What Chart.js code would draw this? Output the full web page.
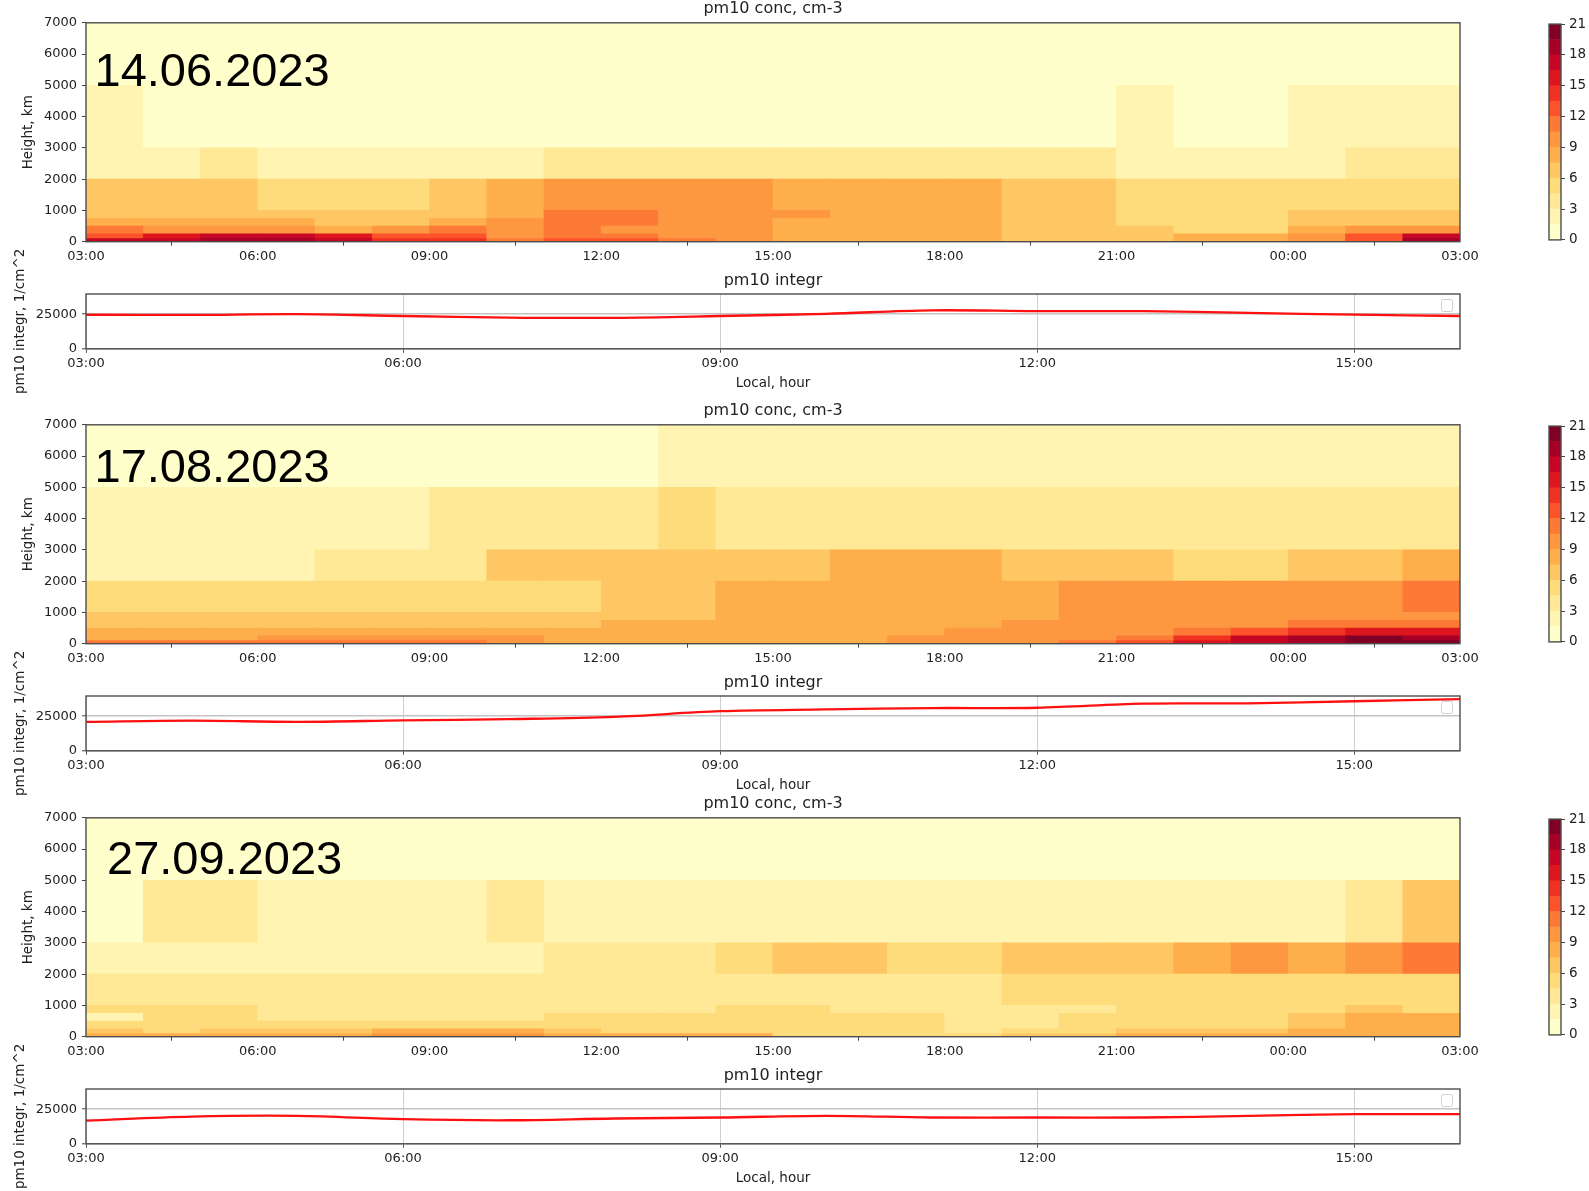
<!DOCTYPE html>
<html>
<head>
<meta charset="utf-8">
<script src="https://cdn.jsdelivr.net/npm/chart.js"></script>
<style>
html,body{margin:0;padding:0;background:#fff;}
#page{position:relative;width:1589px;height:1191px;overflow:hidden;background:#fff;}
</style>
</head>
<body>
<div id="page"></div>
<script>
'use strict';
// layer edges of the profile, m
const heightEdges=[0,100,250,500,750,1000,2000,3000,5000,7000];
const heightTicks=[0,1000,2000,3000,4000,5000,6000,7000];
const heatTickHours=[0,3,6,9,12,15,18,21,24];
const heatTickLabels=['03:00','06:00','09:00','12:00','15:00','18:00','21:00','00:00','03:00'];
const integrHours=[0,1,2,3,4,5,6,7,8,9,10,11,12,13];
const lineTickHours=[0,3,6,9,12];
const lineTickLabels=['03:00','06:00','09:00','12:00','15:00'];
const integrTicks=[0,25000];
const colorLevels=[0,1.5,3,4.5,6,7.5,9,10.5,12,13.5,15,16.5,18,19.5,21];
const dates=['14.06.2023','17.08.2023','27.09.2023'];

// pm10 conc, rows bottom->top (one per layer), 24 hourly columns from 03:00
const concJun=[
  [17,17,19,19,17,14,14,11,13,13,11,10,8,8,8,8,7,7,7,8,8,10,13,19],
  [13,16,17,17,16,13,13,10,11,11,10,10,8,8,8,8,7,7,7,8,8,10,13,17],
  [11,10,10,10,8,10,11,10,11,10,10,10,8,8,8,8,7,7,7,5,5,8,10,10],
  [8,8,8,8,7,7,8,10,11,11,10,10,8,8,8,8,7,7,5,5,5,7,7,7],
  [7,7,7,7,7,7,7,8,11,11,10,10,10,8,8,8,7,7,5,5,5,7,7,7],
  [7,7,7,5,5,5,7,8,10,10,10,10,8,8,8,8,7,7,5,5,5,5,5,5],
  [2,2,4,2,2,2,2,2,4,4,4,4,4,4,4,4,4,4,2,2,2,2,4,4],
  [2,1,1,1,1,1,1,1,1,1,1,1,1,1,1,1,1,1,2,1,1,2,2,2],
  [1,1,1,1,1,1,1,1,1,1,1,1,1,1,1,1,1,1,1,1,1,1,1,1]
];
const concAug=[
  [11,11,11,11,11,11,11,10,8,8,8,8,8,8,10,10,10,11,13,16,17,19,20,20],
  [8,8,8,10,10,10,10,10,8,8,8,8,8,8,10,10,10,10,11,14,17,19,20,19],
  [8,8,8,8,8,8,8,8,8,8,8,8,8,8,8,10,10,10,10,11,13,14,16,16],
  [7,7,7,7,7,7,7,7,7,8,8,8,8,8,8,8,10,10,10,10,10,11,11,11],
  [7,7,7,7,7,7,7,7,7,7,7,8,8,8,8,8,8,10,10,10,10,10,10,10],
  [5,5,5,5,5,5,5,5,5,7,7,8,8,8,8,8,8,10,10,10,10,10,10,11],
  [2,2,2,2,4,4,4,7,7,7,7,7,7,8,8,8,7,7,7,5,5,7,7,8],
  [2,2,2,2,2,2,4,4,4,4,5,4,4,4,4,4,4,4,4,4,4,4,4,4],
  [1,1,1,1,1,1,1,1,1,1,2,2,2,2,2,2,2,2,2,2,2,2,2,2]
];
const concSep=[
  [8,8,8,8,8,10,10,10,8,8,8,8,5,5,5,5,7,7,8,8,8,8,8,8],
  [7,5,7,7,7,8,8,8,7,5,5,5,5,5,5,4,5,5,7,7,7,8,8,8],
  [5,5,5,5,5,5,5,5,5,5,5,5,5,5,5,4,4,5,5,5,5,7,8,8],
  [2,5,5,4,4,4,4,4,5,5,5,5,5,5,5,4,4,5,5,5,5,7,8,8],
  [5,5,5,4,4,4,4,4,4,4,4,5,5,4,4,4,4,4,5,5,5,5,7,5],
  [4,4,4,4,4,4,4,4,4,4,4,4,4,4,4,4,5,5,5,5,5,5,5,5],
  [2,2,2,2,2,2,2,2,4,4,4,5,7,7,5,5,7,7,7,8,10,8,10,11],
  [1,4,4,2,2,2,2,4,2,2,2,2,2,2,2,2,2,2,2,2,2,2,4,7],
  [1,1,1,1,1,1,1,1,1,1,1,1,1,1,1,1,1,1,1,1,1,1,1,1]
];

// pm10 integr, 1/cm^2, hourly from 03:00
const integrJun=[24600,24500,25000,23700,22500,22400,23700,25300,27800,27200,27200,25900,24700,23700];
const integrAug=[20900,21800,20900,22000,22900,24500,28600,29900,30900,31100,34100,34300,35800,37300];
const integrSep=[16800,19700,20200,17800,17000,18300,19000,20200,19000,19000,19000,20200,21400,21400];

const concSets=[concJun,concAug,concSep];
const integrSets=[integrJun,integrAug,integrSep];

// layout (px)
const panelTops=[0,402,795];
const dateOffsets=[[8.5,63],[8.5,57],[21,56]];
const HEAT={top:22.8,bottom:241.7,h:272,w:1500};
const LINE={y0:245,top:294,bottom:348.8,h:150};
const TXT='#222';
const FONT='"DejaVu Sans", sans-serif';

const ylOrRd=['#ffffcc','#ffeda0','#fed976','#feb24c','#fd8d3c','#fc4e2a','#e31a1c','#bd0026','#800026'];
function hexRgb(h){return [1,3,5].map(i=>parseInt(h.slice(i,i+2),16));}
function cmap(t){
  const n=ylOrRd.length-1;
  const p=Math.max(0,Math.min(1,t))*n;
  const i=Math.min(n-1,Math.floor(p));
  const a=hexRgb(ylOrRd[i]),b=hexRgb(ylOrRd[i+1]),f=p-i;
  return `rgb(${a.map((c,k)=>Math.round(c+(b[k]-c)*f)).join(',')})`;
}
const nBands=colorLevels.length-1;
function bandColor(i){return cmap(i/(nBands-1));}
function colorFor(v){
  let i=0;
  while(i<nBands-1 && v>=colorLevels[i+1])i++;
  return bandColor(i);
}

const page=document.getElementById('page');
function addCanvas(left,top,w,h){
  const c=document.createElement('canvas');
  c.width=w;c.height=h;
  c.style.cssText=`position:absolute;left:${left}px;top:${top}px;width:${w}px;height:${h}px`;
  page.appendChild(c);
  return c;
}

function frame(legendBox){
  return {id:'frame',afterDraw(chart){
    const a=chart.chartArea,ctx=chart.ctx;
    ctx.save();
    ctx.strokeStyle='#4d4d4d';ctx.lineWidth=1.4;
    ctx.strokeRect(a.left,a.top,a.right-a.left,a.bottom-a.top);
    if(legendBox){
      ctx.strokeStyle='#cfcfcf';ctx.lineWidth=1;
      ctx.beginPath();ctx.roundRect(a.right-18.5,a.top+5.5,11,12,2);ctx.stroke();
    }
    ctx.restore();
  }};
}
function notes(items){
  return {id:'notes',afterDraw(chart){
    const a=chart.chartArea,ctx=chart.ctx;
    items.forEach(it=>{
      const [x,y]=it.at(a);
      ctx.save();
      ctx.translate(x,y);
      if(it.rot)ctx.rotate(it.rot);
      ctx.font=it.font;ctx.fillStyle=it.color||TXT;
      ctx.textAlign=it.align||'center';ctx.textBaseline=it.baseline||'middle';
      ctx.fillText(it.text,0,0);
      ctx.restore();
    });
  }};
}
const tickFont={family:FONT,size:13};
function fixedTicks(values){return scale=>{scale.ticks=values.map(v=>({value:v}));};}

function heatChart(p){
  const top=panelTops[p];
  const conc=concSets[p];
  const canvas=addCanvas(0,top,HEAT.w,HEAT.h);
  const datasets=conc.map((row,r)=>({
    label:`${heightEdges[r]}-${heightEdges[r+1]} m`,
    data:row.map((v,i)=>({x:i+0.5,y:[heightEdges[r],heightEdges[r+1]]})),
    backgroundColor:row.map(colorFor),
    borderWidth:0,
    grouped:false,
    barPercentage:1,
    categoryPercentage:1
  }));
  const [dx,dy]=dateOffsets[p];
  return new Chart(canvas,{
    type:'bar',
    data:{datasets},
    options:{
      responsive:false,animation:false,events:[],
      layout:{padding:{top:HEAT.top,left:0,right:HEAT.w-1460,bottom:0}},
      plugins:{legend:{display:false},tooltip:{enabled:false}},
      scales:{
        x:{type:'linear',min:0,max:24,offset:false,
          afterBuildTicks:fixedTicks(heatTickHours),
          afterFit:s=>{s.height=HEAT.h-HEAT.bottom;},
          grid:{drawOnChartArea:false,drawTicks:true,tickLength:4,tickColor:'#444'},
          border:{display:false},
          ticks:{autoSkip:false,maxRotation:0,padding:3,color:TXT,font:tickFont,callback:(v,i)=>heatTickLabels[i]}},
        y:{min:0,max:7000,
          afterBuildTicks:fixedTicks(heightTicks),
          afterFit:s=>{s.width=86;},
          grid:{drawOnChartArea:false,drawTicks:true,tickLength:4,tickColor:'#444'},
          border:{display:false},
          ticks:{padding:5,color:TXT,font:tickFont,callback:v=>String(v)}}
      }
    },
    plugins:[frame(false),notes([
      {text:'pm10 conc, cm-3',font:`16px ${FONT}`,at:a=>[(a.left+a.right)/2,a.top-13.5]},
      {text:'Height, km',font:`13.5px ${FONT}`,rot:-Math.PI/2,at:a=>[28.4,(a.top+a.bottom)/2]},
      {text:dates[p],font:'47px "Liberation Sans", Arial, sans-serif',color:'#000',align:'left',baseline:'alphabetic',at:a=>[a.left+dx,a.top+dy]}
    ])]
  });
}

function lineChart(p){
  const top=panelTops[p]+LINE.y0;
  const vals=integrSets[p];
  const canvas=addCanvas(0,top,1470,LINE.h);
  return new Chart(canvas,{
    type:'line',
    data:{datasets:[{
      label:'pm10 integr',
      data:integrHours.map((h,i)=>({x:h,y:vals[i]})),
      borderColor:'#ff1010',borderWidth:2.3,pointRadius:0,tension:0.35,fill:false
    }]},
    options:{
      responsive:false,animation:false,events:[],
      layout:{padding:{top:LINE.top-LINE.y0,left:0,right:10,bottom:0}},
      plugins:{legend:{display:false},tooltip:{enabled:false}},
      scales:{
        x:{type:'linear',min:0,max:13,
          afterBuildTicks:fixedTicks(lineTickHours),
          afterFit:s=>{s.height=LINE.y0+LINE.h-LINE.bottom;},
          grid:{color:'#c9c9c9',lineWidth:0.9,drawTicks:true,tickLength:4,tickColor:'#444'},
          border:{display:false},
          ticks:{autoSkip:false,maxRotation:0,padding:3.5,color:TXT,font:tickFont,callback:(v,i)=>lineTickLabels[i]}},
        y:{min:0,max:39600,
          afterBuildTicks:fixedTicks(integrTicks),
          afterFit:s=>{s.width=86;},
          grid:{color:'#c4c4c4',lineWidth:1.6,drawTicks:true,tickLength:4,tickColor:'#444',tickWidth:1},
          border:{display:false},
          ticks:{padding:5,color:TXT,font:tickFont,callback:v=>String(v)}}
      }
    },
    plugins:[frame(true),notes([
      {text:'pm10 integr',font:`16px ${FONT}`,at:a=>[(a.left+a.right)/2,a.top-13.5]},
      {text:'Local, hour',font:`13.5px ${FONT}`,at:a=>[(a.left+a.right)/2,a.bottom+34.5]},
      {text:'pm10 integr, 1/cm^2',font:`13.5px ${FONT}`,rot:-Math.PI/2,at:a=>[20,(a.top+a.bottom)/2]}
    ])]
  });
}

function colorBar(p){
  const top=panelTops[p]+12;
  const canvas=addCanvas(1540,top,49,240);
  const datasets=colorLevels.slice(0,-1).map((lo,i)=>({
    label:`${lo}-${colorLevels[i+1]}`,
    data:[[lo,colorLevels[i+1]]],
    backgroundColor:bandColor(i),
    borderWidth:0,grouped:false,barPercentage:1,categoryPercentage:1
  }));
  return new Chart(canvas,{
    type:'bar',
    data:{labels:['pm10'],datasets},
    options:{
      responsive:false,animation:false,events:[],
      layout:{padding:{top:HEAT.top-12,left:9,right:0,bottom:252-HEAT.bottom}},
      plugins:{legend:{display:false},tooltip:{enabled:false}},
      scales:{
        x:{display:false},
        y:{position:'right',min:0,max:21,
          afterBuildTicks:fixedTicks(colorLevels),
          afterFit:s=>{s.width=28;},
          grid:{drawOnChartArea:false,drawTicks:true,tickLength:4,tickColor:'#444'},
          border:{display:false},
          ticks:{padding:4,color:TXT,font:{family:FONT,size:13.5},callback:v=>(v%3===0?String(v):'')}}
      }
    },
    plugins:[frame(false)]
  });
}

Chart.defaults.font.family=FONT;
for(let p=0;p<3;p++){
  heatChart(p);
  lineChart(p);
  colorBar(p);
}
</script>
</body>
</html>
